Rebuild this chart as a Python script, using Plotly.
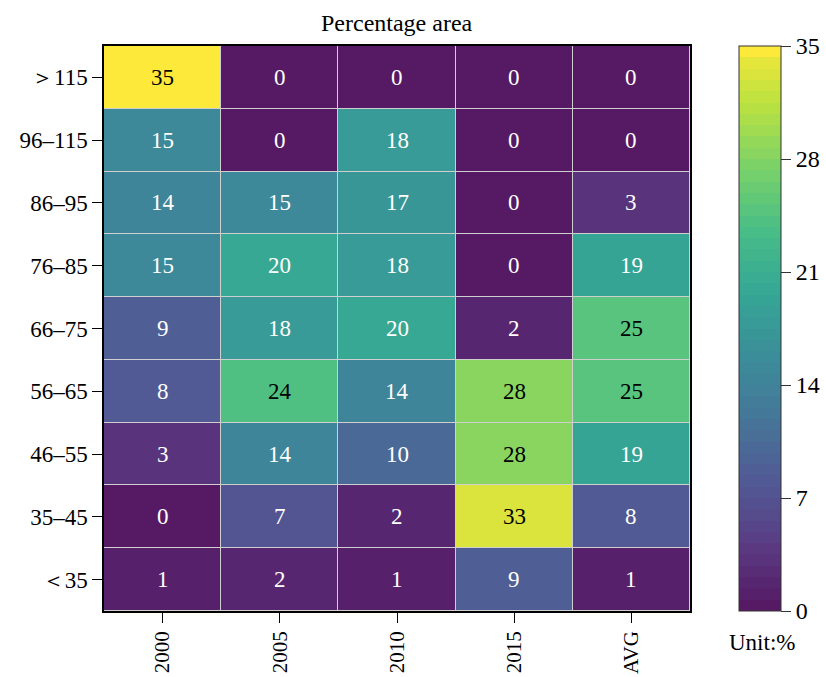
import plotly.graph_objects as go
from plotly.colors import sample_colorscale, unlabel_rgb

columns = ["2000", "2005", "2010", "2015", "AVG"]
rows = ["＞115", "96–115", "86–95", "76–85", "66–75", "56–65", "46–55", "35–45", "＜35"]
values = [
    [35, 0, 0, 0, 0],
    [15, 0, 18, 0, 0],
    [14, 15, 17, 0, 3],
    [15, 20, 18, 0, 19],
    [9, 18, 20, 2, 25],
    [8, 24, 14, 28, 25],
    [3, 14, 10, 28, 19],
    [0, 7, 2, 33, 8],
    [1, 2, 1, 9, 1],
]
cbar_ticks = [0, 7, 14, 21, 28, 35]
zmin, zmax = 0, 35

# discrete viridis blended slightly toward white
N = 50
def blend(c, a=0.9):
    r, g, b = unlabel_rgb(c)
    return "rgb(%d,%d,%d)" % (a * r + (1 - a) * 255, a * g + (1 - a) * 255, a * b + (1 - a) * 255)

cols = sample_colorscale("Viridis", [i / N for i in range(N)])
cols = [blend(c) for c in cols]
cscale = []
for i, c in enumerate(cols):
    cscale.append([i / N, c])
    cscale.append([(i + 1) / N, c])
cscale[-1][1] = blend("rgb(253,231,37)")
cscale[-2][1] = blend("rgb(253,231,37)")

FONT = "Liberation Serif, Times New Roman, serif"

fig = go.Figure(go.Heatmap(
    z=values, x=columns, y=rows,
    colorscale=cscale, zmin=zmin, zmax=zmax,
    xgap=1, ygap=1,
    colorbar=dict(
        thickness=42, thicknessmode="pixels",
        len=565, lenmode="pixels",
        x=1.083, xanchor="left", y=0.5, yanchor="middle",
        xpad=0, ypad=0,
        tickvals=cbar_ticks, ticks="outside", ticklen=10, tickwidth=1,
        tickcolor="#333", outlinecolor="#333", outlinewidth=1,
        tickfont=dict(family=FONT, size=24, color="black"),
    ),
    hoverinfo="skip",
))

annotations = []
for i, r in enumerate(rows):
    for j, c in enumerate(columns):
        v = values[i][j]
        annotations.append(dict(
            x=j, y=i, text=str(v), showarrow=False,
            font=dict(family=FONT, size=23, color="black" if v >= 22 else "white"),
        ))
annotations.append(dict(
    x=1.123, y=-0.055, xref="paper", yref="paper", text="Unit:%",
    showarrow=False, xanchor="center", yanchor="middle",
    font=dict(family=FONT, size=23, color="black"),
))
annotations.append(dict(
    x=0.5, y=1.041, xref="paper", yref="paper", text="Percentage area",
    showarrow=False, xanchor="center", yanchor="middle",
    font=dict(family=FONT, size=24, color="black"),
))

fig.update_layout(
    width=826, height=677,
    margin=dict(l=104, r=136, t=46, b=66, autoexpand=False),
    plot_bgcolor="#cfcfcf", paper_bgcolor="white",
    annotations=annotations,
    xaxis=dict(
        type="category",
        tickangle=-90, ticks="outside", ticklen=10, tickcolor="black",
        tickfont=dict(family=FONT, size=21, color="black"),
        showline=True, linecolor="black", linewidth=1.5, mirror=True,
        showgrid=False, zeroline=False,
    ),
    yaxis=dict(
        type="category",
        autorange="reversed", ticks="outside", ticklen=10, tickcolor="black",
        tickfont=dict(family=FONT, size=23, color="black"),
        showline=True, linecolor="black", linewidth=1.5, mirror=True,
        showgrid=False, zeroline=False,
    ),
)

fig.write_html("out.html")
